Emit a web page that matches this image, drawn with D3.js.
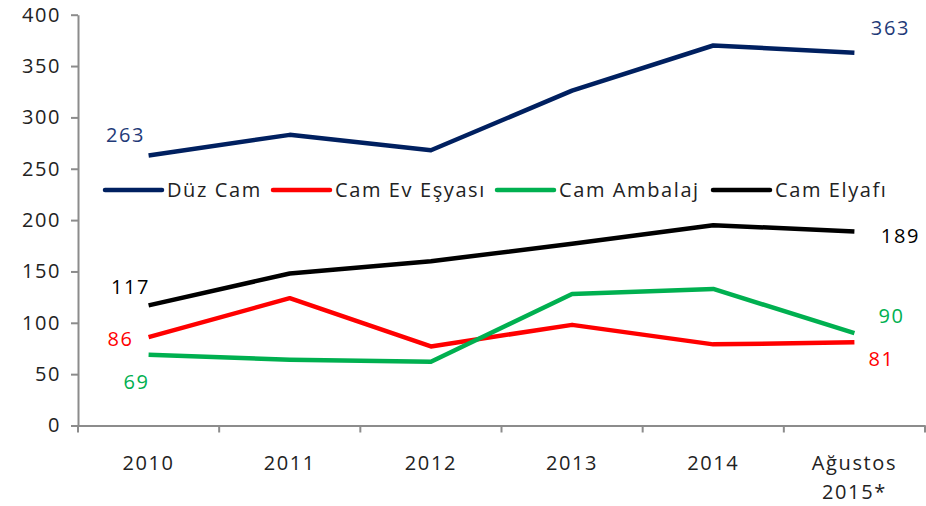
<!DOCTYPE html>
<html><head><meta charset="utf-8">
<script src="https://cdn.jsdelivr.net/npm/d3@7"></script>
<style>
body{margin:0;background:#fff}
text{font-family:"Open Sans","Noto Sans",sans-serif;}
</style></head>
<body><svg id="c" width="926" height="506"></svg>
<script>
const categories = ["2010","2011","2012","2013","2014","Ağustos\n2015*"];
const seriesNames = ["Düz Cam","Cam Ev Eşyası","Cam Ambalaj","Cam Elyafı"];
const duzCam = [263,283,268,326,370,363];
const camEvEsyasi = [86,124,77,98,79,81];
const camAmbalaj = [69,64,62,128,133,90];
const camElyafi = [117,148,160,177,195,189];
const yTicks = [0,50,100,150,200,250,300,350,400];
const colors = ["#002060","#FF0000","#00B050","#000000"];
const labelColors = ["#1F3A78","#FF0000","#00B050","#000000"];

const svg = d3.select("#c");
const L = 78, R = 925, T = 14.7, B = 425.5;
const x = d3.scaleBand().domain(categories).range([L,R]);
const y = d3.scaleLinear().domain([0,400]).range([B,T]);
const fs = 20, ls = "1.6px";

// axes
const yAxis = svg.append("g").attr("transform",`translate(${L},0)`)
  .call(d3.axisLeft(y).tickValues(yTicks).tickSize(7).tickPadding(10).tickSizeOuter(0));
const xAxis = svg.append("g").attr("transform",`translate(0,${B})`)
  .call(d3.axisBottom(x).tickSize(0).tickFormat(""));
[yAxis,xAxis].forEach(a=>{a.selectAll("path,line").attr("stroke","#8C8C8C").attr("stroke-width",2);a.select(".domain").attr("stroke","#8C8C8C");});
yAxis.selectAll("text").attr("font-size",fs).attr("fill","#222").style("letter-spacing",ls).attr("font-family","Open Sans");
// x tick marks at band boundaries
const bounds = categories.map(c=>x(c)).concat([R]);
svg.append("g").selectAll("line").data(bounds).join("line")
  .attr("x1",d=>d).attr("x2",d=>d).attr("y1",B).attr("y2",B+7)
  .attr("stroke","#8C8C8C").attr("stroke-width",2);
// x labels
categories.forEach(c=>{
  const lines = c.split("\n");
  const t = svg.append("text").attr("x",x(c)+x.bandwidth()/2).attr("y",470)
    .attr("text-anchor","middle").attr("font-size",fs).attr("fill","#222").style("letter-spacing",ls);
  lines.forEach((l,i)=>t.append("tspan").attr("x",x(c)+x.bandwidth()/2).attr("dy",i?29:0).text(l));
});

const data = [duzCam,camEvEsyasi,camAmbalaj,camElyafi];
const line = d3.line().x((d,i)=>x(categories[i])+x.bandwidth()/2).y(d=>y(d));
// draw order: back to front
[3,1,2,0].forEach(k=>{
  svg.append("path").attr("d",line(data[k])).attr("fill","none")
    .attr("stroke",colors[k]).attr("stroke-width",4.5).attr("stroke-linejoin","round");
});

// data labels (first and last)
const firstOff = [[-23,-20],[-28,2],[-12,27],[-18,-18]];
const lastOff = [[36,-25],[27,17],[37,-17],[46,5]];
data.forEach((s,k)=>{
  const x0 = x(categories[0])+x.bandwidth()/2, x1 = x(categories[5])+x.bandwidth()/2;
  svg.append("text").attr("x",x0+firstOff[k][0]).attr("y",y(s[0])+firstOff[k][1]+7)
    .attr("text-anchor","middle").attr("font-size",fs).attr("fill",labelColors[k]).style("letter-spacing",ls).text(s[0]);
  svg.append("text").attr("x",x1+lastOff[k][0]).attr("y",y(s[5])+lastOff[k][1]+7)
    .attr("text-anchor","middle").attr("font-size",fs).attr("fill",labelColors[k]).style("letter-spacing",ls).text(s[5]);
});

// legend
const legX = [105,273,497,713];
const lg = svg.append("g");
seriesNames.forEach((n,k)=>{
  lg.append("line").attr("x1",legX[k]).attr("x2",legX[k]+57).attr("y1",190).attr("y2",190)
    .attr("stroke",colors[k]).attr("stroke-width",4.5).attr("stroke-linecap","round");
  lg.append("text").attr("x",legX[k]+62).attr("y",197).attr("font-size",fs).attr("fill","#222")
    .style("letter-spacing",ls).text(n);
});
</script></body></html>
